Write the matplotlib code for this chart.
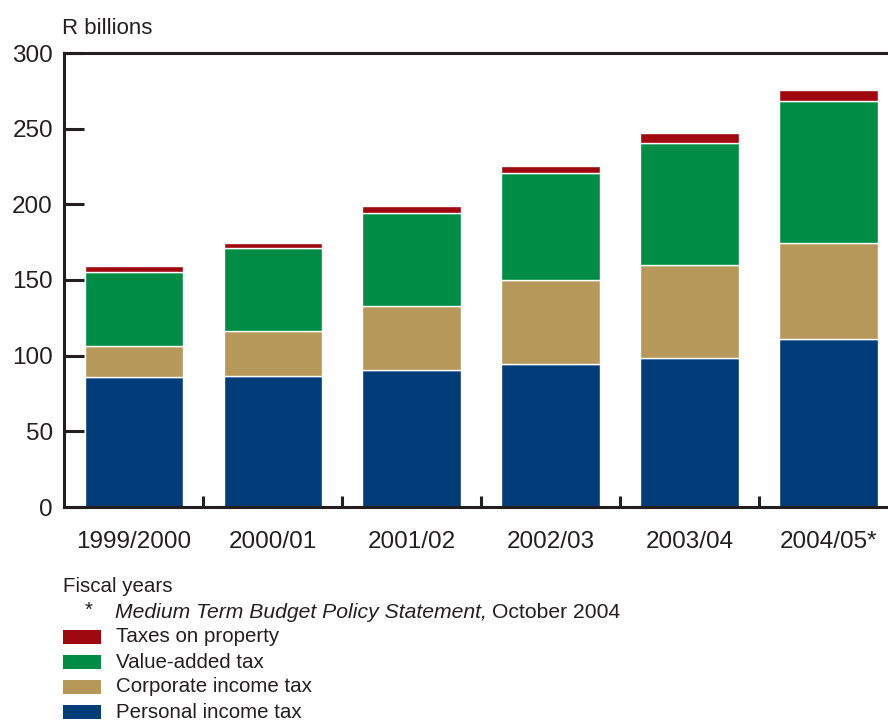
import numpy as np
import matplotlib; matplotlib.use("Agg")
import matplotlib.pyplot as plt
from matplotlib.patches import Rectangle

years = ["1999/2000", "2000/01", "2001/02", "2002/03", "2003/04", "2004/05*"]
personal = [85.9, 86.4, 90.5, 94.3, 98.5, 110.8]
corporate = [20.7, 29.7, 42.3, 55.9, 61.2, 63.7]
vat = [48.5, 54.9, 61.5, 70.3, 80.9, 93.6]
property_tax = [4.0, 3.5, 4.7, 4.9, 6.4, 7.7]
series = [("Personal income tax", personal, "#003c78"),
          ("Corporate income tax", corporate, "#b5985a"),
          ("Value-added tax", vat, "#008c44"),
          ("Taxes on property", property_tax, "#a0080f")]

INK = "#231f20"
plt.rcParams['font.family'] = ['Liberation Sans', 'DejaVu Sans']

W, H = 888, 720
fig = plt.figure(figsize=(W/100, H/100), dpi=100)
ax = fig.add_axes([64/W, 1-507/H, (W-64)/W, (507-53)/H])

x = np.arange(len(years))
bottom = np.zeros(len(years))
for name, vals, col in series:
    ax.bar(x, vals, width=0.71, bottom=bottom, color=col, edgecolor="white", linewidth=1.0)
    bottom += np.array(vals)

ax.set_xlim(-0.504, 5.43)
ax.set_ylim(0, 300)
ax.set_yticks(range(0, 301, 50))
ax.tick_params(axis="y", direction="in", length=14.5, width=2.2, color=INK,
               labelsize=17.5, labelcolor=INK, pad=8)
ax.set_xticks(x[:-1] + 0.5)
ax.set_xticklabels([])
ax.tick_params(axis="x", which="major", direction="in", length=8, width=2.2, color=INK)
ax.set_xticks(x, minor=True)
ax.set_xticklabels(years, minor=True)
ax.tick_params(axis="x", which="minor", length=0, labelsize=17.5, labelcolor=INK, pad=17)

for s in ["left", "bottom", "top"]:
    ax.spines[s].set_color(INK)
    ax.spines[s].set_linewidth(2.2)
ax.spines["right"].set_visible(False)

fig.text(62/W, 1-28/H, "R billions", fontsize=16, color=INK, va="center", ha="left")

# legend block below the chart
LS = 14.8
fig.text(63/W, 1-587/H, "Fiscal years", fontsize=LS, color=INK, va="center")
fig.text(85/W, 1-610/H, "*", fontsize=LS, color=INK, va="center")
t = fig.text(115/W, 1-612/H, "Medium Term Budget Policy Statement,", fontsize=LS + 0.4,
             color=INK, va="center", style="italic")
fig.canvas.draw()
bb = t.get_window_extent()
fig.text(bb.x1/W + 5/W, 1-612/H, "October 2004", fontsize=LS + 0.4, color=INK, va="center")

for i, (name, vals, col) in enumerate(series[::-1]):
    yc = 637 + 25*i
    fig.patches.append(Rectangle((63/W, 1-(yc+7)/H), 38/W, 14/H, transform=fig.transFigure,
                                 facecolor=col, edgecolor="none"))
    fig.text(116/W, 1-yc/H, name, fontsize=LS, color=INK, va="center")

fig.savefig("out.png", dpi=100)
